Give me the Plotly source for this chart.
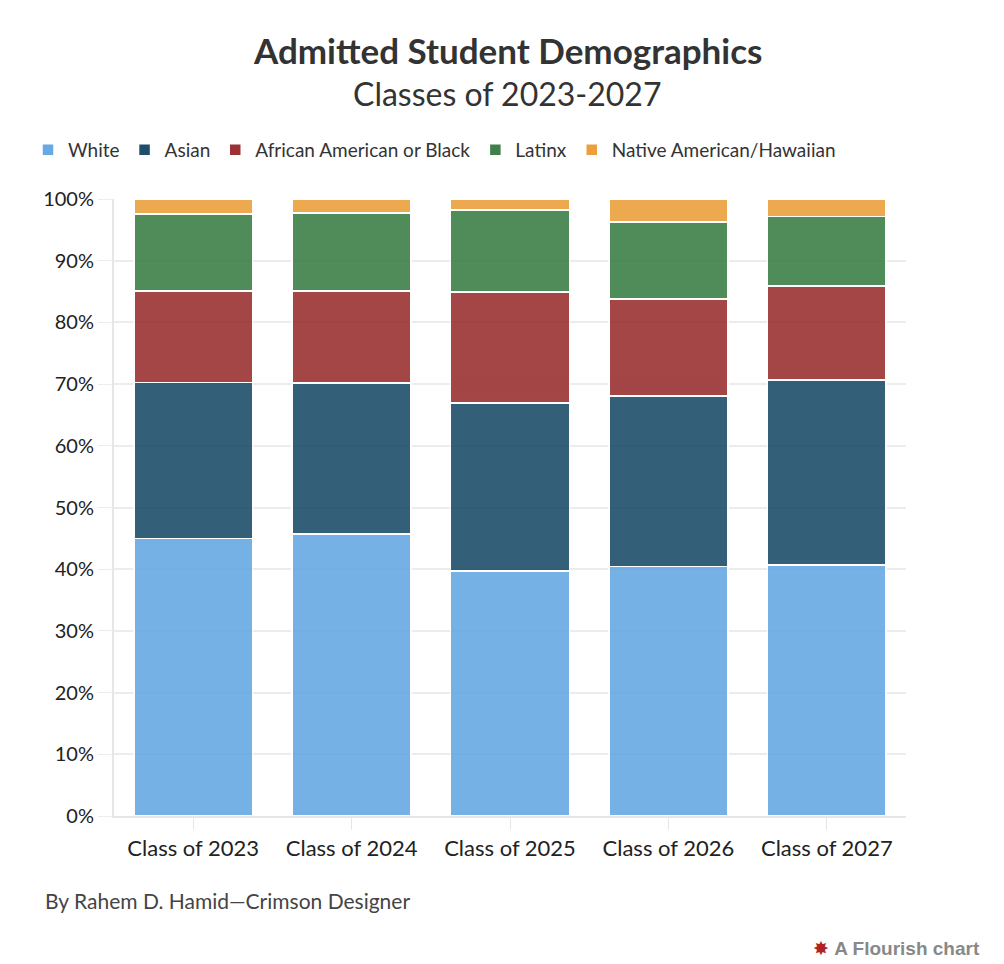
import plotly.graph_objects as go

categories = ["Class of 2023", "Class of 2024", "Class of 2025", "Class of 2026", "Class of 2027"]
white = [45.0, 45.7, 39.7, 40.4, 40.7]
asian = [25.3, 24.5, 27.2, 27.7, 30.0]
african_american = [14.8, 14.9, 18.0, 15.7, 15.2]
latinx = [12.5, 12.6, 13.3, 12.5, 11.3]
native = [2.4, 2.3, 1.8, 3.7, 2.8]
y_ticks = [0, 10, 20, 30, 40, 50, 60, 70, 80, 90, 100]

series = [
    ("White", white, "#67a9e3"),
    ("Asian", asian, "#1f4e6b"),
    ("African American or Black", african_american, "#9b3133"),
    ("Latinx", latinx, "#3e8048"),
    ("Native American/Hawaiian", native, "#eba03c"),
]

FONT = "Source Sans Pro, Lato, Roboto, sans-serif"

# figure geometry (page is offset by 8px body margin)
OFF = 8
W, H = 996, 956
L, T, B, R = 106, 191, 148, 98
ph = H - T - B
pw = W - L - R

def py(ypix):
    return (H - B - (ypix - OFF)) / ph

def px(xpix):
    return (xpix - OFF - L) / pw

fig = go.Figure()
for name, vals, col in series:
    fig.add_trace(go.Bar(
        x=categories, y=vals, name=name,
        marker=dict(color=col, opacity=0.9, line=dict(color="white", width=1.5)),
        hovertemplate="%{x}<br>" + name + ": %{y}%<extra></extra>",
    ))

fig.update_layout(
    width=W, height=H,
    barmode="stack", bargap=0.25,
    plot_bgcolor="white", paper_bgcolor="white",
    margin=dict(l=L, r=R, t=T, b=B),
    font=dict(family=FONT, color="#333333"),
    showlegend=True,
    legend=dict(orientation="h", x=px(28), xanchor="left", y=py(150), yanchor="middle",
                font=dict(size=19, color="#333333"), traceorder="normal"),
)

fig.add_annotation(text="<b>Admitted Student Demographics</b>", showarrow=False,
                   xref="paper", yref="paper", x=px(507), y=py(50),
                   xanchor="center", yanchor="middle",
                   font=dict(size=35, color="#333333", family=FONT))
fig.add_annotation(text="Classes of 2023-2027", showarrow=False,
                   xref="paper", yref="paper", x=px(507), y=py(93),
                   xanchor="center", yanchor="middle",
                   font=dict(size=32, color="#333333", family=FONT))
fig.add_annotation(text="By Rahem D. Hamid—Crimson Designer", showarrow=False,
                   xref="paper", yref="paper", x=px(43), y=py(900),
                   xanchor="left", yanchor="middle",
                   font=dict(size=21, color="#444444", family=FONT))
fig.add_annotation(text="<span style='color:#b22222'>✸</span> <b>A Flourish chart</b>", showarrow=False,
                   xref="paper", yref="paper", x=px(982), y=py(948),
                   xanchor="right", yanchor="middle",
                   font=dict(size=19, color="#888888", family="Liberation Sans, Arial, sans-serif"))

fig.update_xaxes(
    showline=True, linecolor="#e6e6e6", linewidth=2,
    ticks="outside", ticklen=12, tickcolor="#e6e6e6",
    tickfont=dict(size=22, color="#222222", family=FONT),
    range=[-0.5, 4.5], showgrid=False,
)
fig.update_yaxes(
    range=[0, 100], tickvals=y_ticks, ticktext=[f"{v}%" for v in y_ticks],
    showgrid=True, gridcolor="#ececec", gridwidth=2,
    showline=True, linecolor="#e6e6e6", linewidth=2,
    ticks="outside", ticklen=14, tickcolor="#ececec",
    tickfont=dict(size=20, color="#222222", family=FONT),
    zeroline=False,
)

fig.write_html("out.html")
